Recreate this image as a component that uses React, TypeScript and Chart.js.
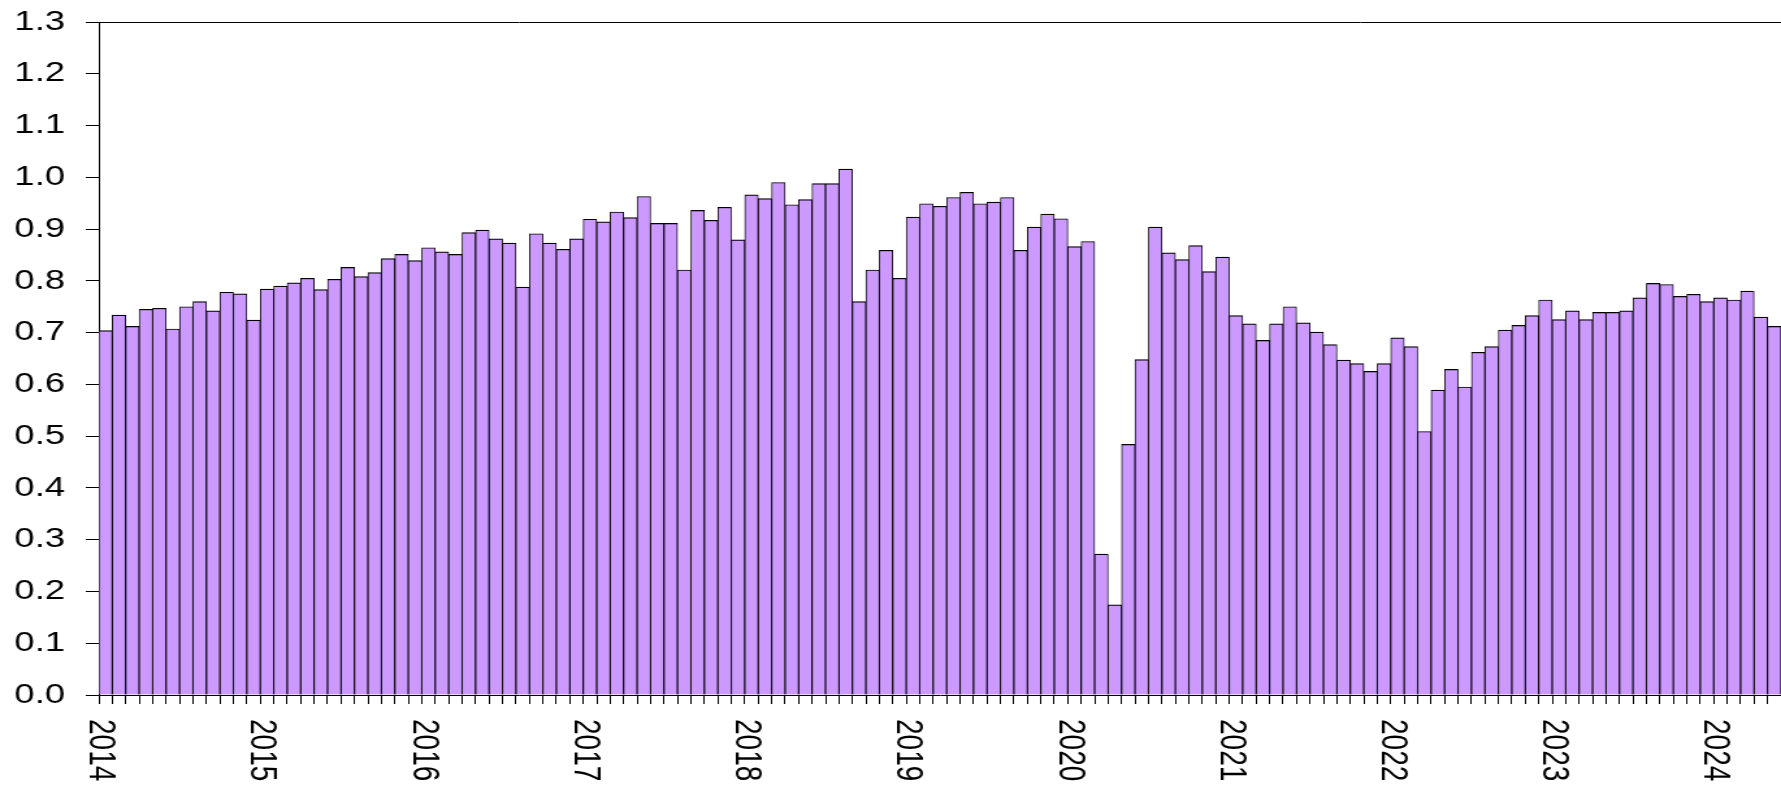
import React, { useEffect, useRef } from "react";
import { Chart, registerables } from "chart.js";

Chart.register(...registerables);

// ---- data (monthly values, Jan 2014 .. May 2024) ----
const yearLabels = ["2014", "2015", "2016", "2017", "2018", "2019", "2020", "2021", "2022", "2023", "2024"];

const v2014 = [0.704, 0.734, 0.712, 0.745, 0.747, 0.707, 0.75, 0.76, 0.742, 0.778, 0.775, 0.724];
const v2015 = [0.784, 0.79, 0.796, 0.805, 0.783, 0.803, 0.826, 0.808, 0.816, 0.843, 0.851, 0.839];
const v2016 = [0.864, 0.856, 0.851, 0.893, 0.898, 0.881, 0.873, 0.788, 0.891, 0.873, 0.861, 0.881];
const v2017 = [0.919, 0.914, 0.933, 0.922, 0.963, 0.911, 0.911, 0.821, 0.936, 0.917, 0.942, 0.879];
const v2018 = [0.966, 0.959, 0.99, 0.947, 0.957, 0.988, 0.988, 1.016, 0.76, 0.821, 0.859, 0.805];
const v2019 = [0.923, 0.949, 0.944, 0.961, 0.971, 0.949, 0.952, 0.961, 0.859, 0.904, 0.929, 0.92];
const v2020 = [0.866, 0.876, 0.272, 0.174, 0.484, 0.648, 0.904, 0.854, 0.841, 0.868, 0.818, 0.846];
const v2021 = [0.733, 0.717, 0.685, 0.717, 0.75, 0.719, 0.701, 0.677, 0.647, 0.64, 0.625, 0.64];
const v2022 = [0.69, 0.673, 0.509, 0.589, 0.629, 0.595, 0.662, 0.673, 0.705, 0.714, 0.733, 0.763];
const v2023 = [0.725, 0.742, 0.725, 0.739, 0.739, 0.742, 0.767, 0.795, 0.793, 0.77, 0.774, 0.76];
const v2024 = [0.767, 0.763, 0.78, 0.73, 0.712];

const monthlyValues = [
  ...v2014, ...v2015, ...v2016, ...v2017, ...v2018, ...v2019,
  ...v2020, ...v2021, ...v2022, ...v2023, ...v2024,
];

const yMin = 0;
const yMax = 1.3;
const yStep = 0.1;
const monthsPerYear = 12;

// ---- layout ----
const PAGE_W = 1781;
const PAGE_H = 787;
const STRETCH = 1.3;
const CANVAS_W = Math.round(PAGE_W / STRETCH);
const FONT = '"Liberation Sans", Arial, Helvetica, sans-serif';

export default function App() {
  const ref = useRef<HTMLCanvasElement>(null);

  useEffect(() => {
    const canvas = ref.current;
    if (!canvas) return;

    const points = monthlyValues.map((y, i) => ({ x: i + 0.5, y }));

    const framePlugin = {
      id: "frameAndYears",
      afterDraw(chart: any) {
        const { ctx, chartArea } = chart;
        const xs = chart.scales.x;
        ctx.save();
        ctx.strokeStyle = "#000";
        ctx.lineWidth = 1;
        const ty = Math.round(chartArea.top) + 0.5;
        ctx.beginPath();
        ctx.moveTo(chartArea.left, ty);
        ctx.lineTo(chartArea.right, ty);
        ctx.stroke();

        ctx.fillStyle = "#000";
        ctx.font = `28px ${FONT}`;
        ctx.textAlign = "left";
        ctx.textBaseline = "middle";
        yearLabels.forEach((lab, k) => {
          const px = xs.getPixelForValue(k * monthsPerYear);
          ctx.save();
          ctx.translate(px + 1.5, chartArea.bottom + 24);
          ctx.scale(1.08, 1);
          ctx.rotate(Math.PI / 2);
          ctx.fillText(lab, 0, 0);
          ctx.restore();
        });
        ctx.restore();
      },
    };

    const chart = new Chart(canvas, {
      type: "bar",
      data: {
        datasets: [
          {
            data: points as any,
            backgroundColor: "#CC99FF",
            borderColor: "#000000",
            borderWidth: { top: 1.2, left: 0.9, right: 0.9, bottom: 0 } as any,
            barPercentage: 1,
            categoryPercentage: 1,
          },
        ],
      },
      options: {
        responsive: false,
        animation: false,
        events: [],
        layout: { padding: { top: 22, left: 0, right: 0, bottom: 0 } },
        plugins: {
          legend: { display: false },
          tooltip: { enabled: false },
          title: { display: false },
        },
        scales: {
          x: {
            type: "linear",
            min: 0,
            max: monthlyValues.length,
            offset: false,
            grid: {
              display: true,
              offset: false,
              drawOnChartArea: false,
              drawTicks: true,
              tickLength: 9,
              color: "#000",
              lineWidth: 1,
            },
            border: { display: true, color: "#000", width: 1 },
            ticks: {
              stepSize: 1,
              autoSkip: false,
              maxRotation: 0,
              minRotation: 0,
              padding: 0,
              callback: () => "",
            },
            afterFit: (s: any) => {
              s.height = 92;
              s.paddingLeft = 0;
              s.paddingRight = 0;
            },
          } as any,
          y: {
            min: yMin,
            max: yMax,
            grid: {
              display: true,
              drawOnChartArea: false,
              drawTicks: true,
              tickLength: 10,
              color: "#000",
              lineWidth: 1,
            },
            border: { display: true, color: "#000", width: 1 },
            ticks: {
              stepSize: yStep,
              padding: 16,
              color: "#000",
              font: { family: FONT, size: 28 },
              callback: (v: any) => Number(v).toFixed(1),
            },
            afterFit: (s: any) => {
              s.width = 76;
              s.paddingTop = 0;
              s.paddingBottom = 0;
            },
          } as any,
        },
      },
      plugins: [framePlugin],
    });

    return () => {
      chart.destroy();
    };
  }, []);

  return (
    <div
      style={{
        position: "fixed",
        left: 0,
        top: 0,
        width: PAGE_W,
        height: PAGE_H,
        overflow: "hidden",
        background: "#fff",
      }}
    >
      <canvas
        ref={ref}
        width={CANVAS_W}
        height={PAGE_H}
        style={{ width: `${PAGE_W}px`, height: `${PAGE_H}px`, display: "block" }}
      />
    </div>
  );
}
